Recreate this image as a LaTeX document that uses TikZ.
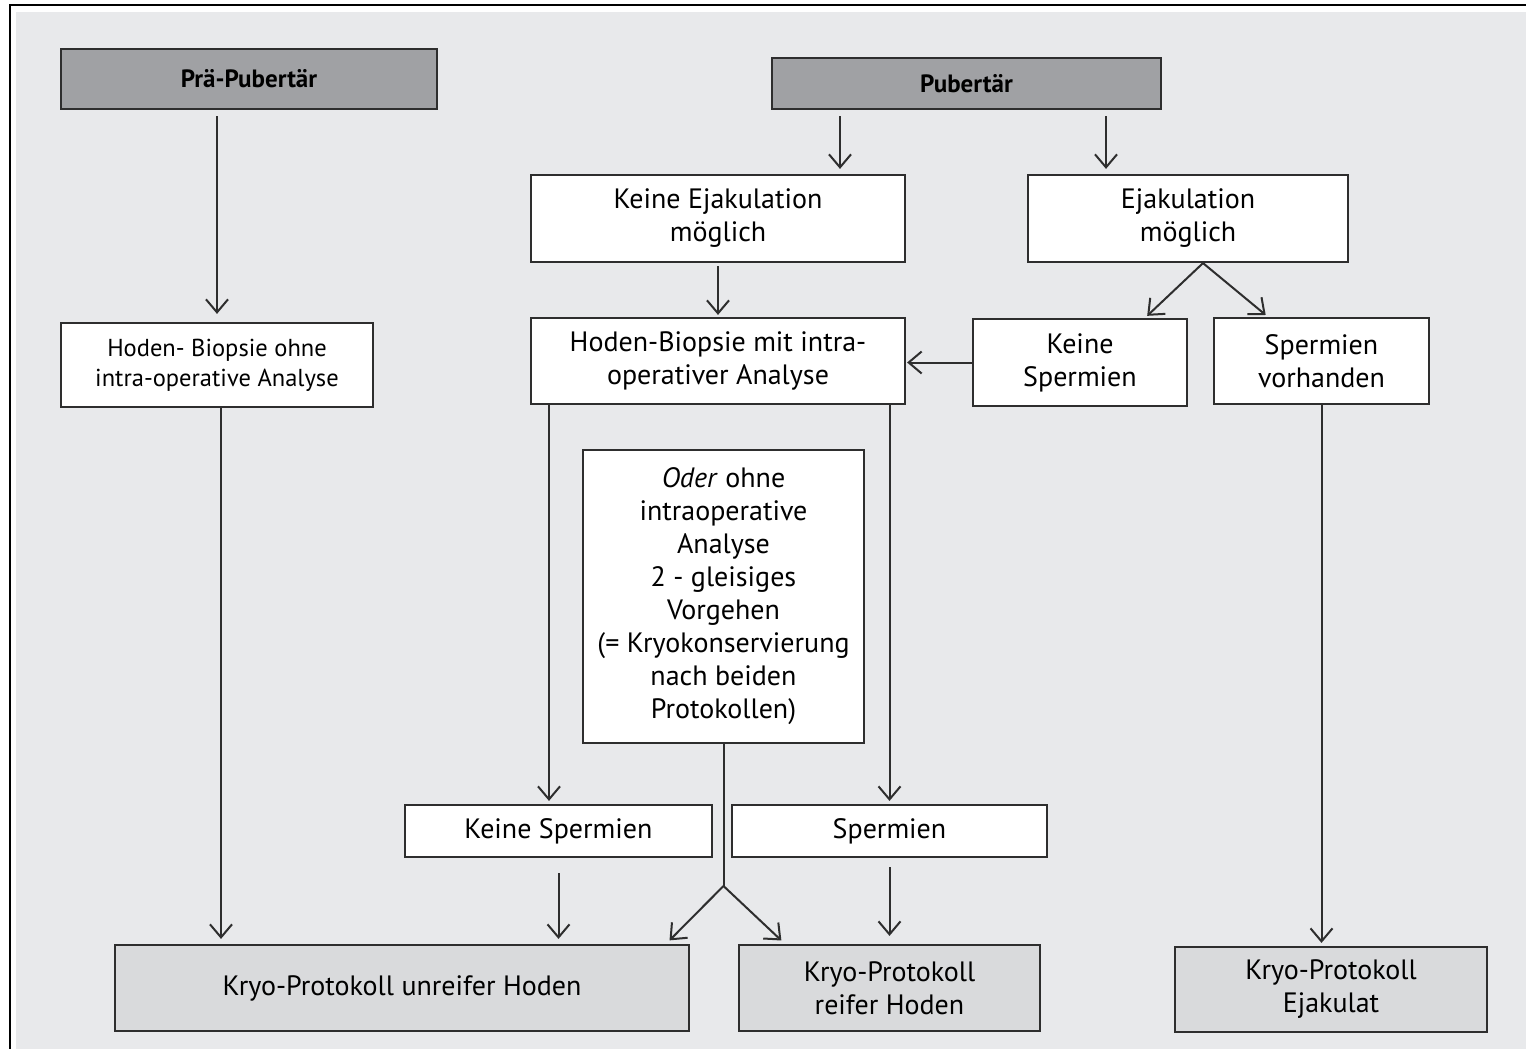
\documentclass[tikz,border=0pt]{standalone}
\usepackage{fontspec}
\setmainfont{PT Sans}
\usetikzlibrary{arrows.meta}
\definecolor{bgc}{HTML}{E8E9EB}
\definecolor{darkc}{HTML}{A0A1A4}
\definecolor{lightc}{HTML}{D9DADC}
\definecolor{lnc}{HTML}{2E2E2E}
\begin{document}
\begin{tikzpicture}[x=1pt,y=-1pt,
  box/.style={draw=lnc, line width=2.2pt, fill=white, align=center, inner sep=0pt, font=\fontsize{28}{33}\selectfont},
  darkbox/.style={box, fill=darkc, font=\fontsize{25}{28}\selectfont\bfseries},
  kbox/.style={box, fill=lightc},
  plain/.style={draw=lnc, line width=2pt},
  arr/.style={plain, -{Straight Barb[length=13pt,width=22pt,line width=2pt]}}
]
\useasboundingbox (0,0) rectangle (1526,1049);
\fill[white] (0,0) rectangle (1526,1049);
\fill[bgc] (16,12) rectangle (1526,1049);
\draw[line width=2.5pt, black] (10,1049) -- (10,5) -- (1526,5);

% nodes
\node[darkbox, minimum width=376pt, minimum height=60pt] (prae) at (249,79) {Prä-Pubertär};
\node[darkbox, minimum width=389pt, minimum height=51pt] (pub) at (966.5,83.5) {Pubertär};
\node[box, minimum width=374pt, minimum height=87pt] (ke) at (718,218.5) {Keine Ejakulation\\möglich};
\node[box, minimum width=320pt, minimum height=87pt] (ej) at (1188,218.5) {Ejakulation\\möglich};
\node[box, minimum width=374pt, minimum height=86pt] (hbm) at (718,361) {Hoden-Biopsie mit intra-\\operativer Analyse};
\node[box, minimum width=214pt, minimum height=87pt] (ks1) at (1080,362.5) {Keine\\Spermien};
\node[box, minimum width=215pt, minimum height=86pt] (sv) at (1321.5,361) {Spermien\\vorhanden};
\node[box, minimum width=312pt, minimum height=84pt, font=\fontsize{24.5}{30}\selectfont] (hbo) at (217,365) {Hoden- Biopsie ohne\\intra-operative Analyse};
\node[box, minimum width=281pt, minimum height=293pt] (oder) at (723.5,596.5) {\textit{Oder} ohne\\intraoperative\\Analyse\\2 - gleisiges\\Vorgehen\\(= Kryokonservierung\\nach beiden\\Protokollen)};
\node[box, minimum width=307pt, minimum height=52pt] (ks2) at (558.5,831) {Keine Spermien};
\node[box, minimum width=315pt, minimum height=52pt] (sp) at (889.5,831) {Spermien};
\node[kbox, minimum width=574pt, minimum height=86pt] (ku) at (402,988) {Kryo-Protokoll unreifer Hoden};
\node[kbox, minimum width=301pt, minimum height=86pt] (kr) at (889.5,988) {Kryo-Protokoll\\reifer Hoden};
\node[kbox, minimum width=312pt, minimum height=85pt] (kej) at (1331,989.5) {Kryo-Protokoll\\Ejakulat};

% helper coordinates
\coordinate (c840) at (840,0);
\coordinate (c1106) at (1106,0);
\coordinate (c549) at (549,0);
\coordinate (c221) at (221,0);
\coordinate (ejs) at ([xshift=15pt]ej.south);
\coordinate (osplit) at (723.5,886);

% connectors
\draw[arr, shorten <=6pt, shorten >=8pt] (prae.south -| hbo.north) -- (hbo.north);
\draw[arr, shorten <=6pt, shorten >=5pt] (pub.south -| c840) -- (ke.north -| c840);
\draw[arr, shorten <=6pt, shorten >=5pt] (pub.south -| c1106) -- (ej.north -| c1106);
\draw[arr, shorten <=3pt, shorten >=2pt] (ke.south) -- (hbm.north);
\draw[arr, shorten >=3pt] (ejs) -- ([xshift=65pt]ks1.north);
\draw[arr, shorten >=3pt] (ejs) -- ([xshift=-53.5pt]sv.north);
\draw[arr, shorten >=1pt] (ks1.west) -- (ks1.west -| hbm.east);
\draw[arr, shorten >=3pt] (hbm.south -| c549) -- (ks2.north -| c549);
\draw[arr, shorten >=3pt] (hbm.south -| sp.north) -- (sp.north);
\draw[arr, shorten >=5pt] (hbo.south -| c221) -- (ku.north -| c221);
\draw[arr, shorten <=15pt, shorten >=5pt] (ks2.south) -- (ks2.south |- ku.north);
\draw[arr, shorten <=9pt, shorten >=8pt] (sp.south) -- (sp.south |- kr.north);
\draw[plain] (oder.south) -- (osplit);
\draw[arr, shorten >=5pt] (osplit) -- ([xshift=264pt]ku.north);
\draw[arr, shorten >=5pt] (osplit) -- ([xshift=-104.5pt]kr.north);
\draw[arr, shorten >=3pt] (sv.south) -- (sv.south |- kej.north);
\end{tikzpicture}
\end{document}
